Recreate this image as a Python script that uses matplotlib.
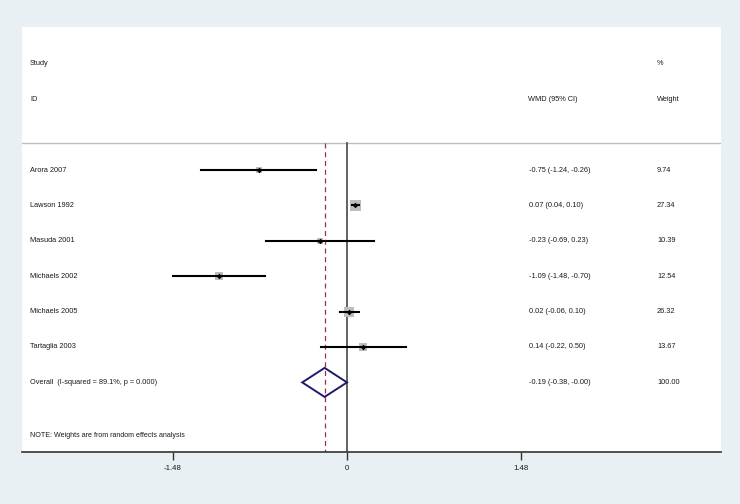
import numpy as np
import matplotlib
matplotlib.use("Agg")
import matplotlib.pyplot as plt
from matplotlib.patches import Polygon

studies = ["Arora 2007", "Lawson 1992", "Masuda 2001", "Michaels 2002",
           "Michaels 2005", "Tartaglia 2003"]
wmd = [-0.75, 0.07, -0.23, -1.09, 0.02, 0.14]
lo = [-1.24, 0.04, -0.69, -1.48, -0.06, -0.22]
hi = [-0.26, 0.10, 0.23, -0.70, 0.10, 0.50]
weights = [9.74, 27.34, 10.39, 12.54, 26.32, 13.67]
overall = (-0.19, -0.38, -0.00)
overall_label = "Overall  (I-squared = 89.1%, p = 0.000)"
tick_vals = [-1.48, 0, 1.48]
tick_labels = ["-1.48", "0", "1.48"]

BG = "#e8f0f3"
fig = plt.figure(figsize=(7.4, 5.04), dpi=100, facecolor=BG)
W, H = 740, 504
left, right, top, bottom = 22, 721, 27, 452
ax = fig.add_axes([left / W, 1 - bottom / H, (right - left) / W, (bottom - top) / H])
ax.set_facecolor("white")

px_per_unit = 117.8
x0 = 347
ax.set_xlim((left - x0) / px_per_unit, (right - x0) / px_per_unit)
row0, step = 170, 35.4
ax.set_ylim((bottom - row0) / step, (top - row0) / step)

font = ["Liberation Sans", "DejaVu Sans"]
narrow = ["Liberation Sans Narrow", "Liberation Sans", "DejaVu Sans"]
fs = 5.3
tc = "#1a1a1a"

def xfrac(px):
    return (px - left) / (right - left)

tr = ax.get_yaxis_transform()

def txt(px, y, s, size=fs, fam=font):
    ax.text(xfrac(px), y, s, transform=tr, fontsize=size, family=fam, va="center", color=tc)

n = len(studies)
ys = np.arange(n)
yo = n

# header
txt(30, -3, "Study")
txt(30, -2, "ID")
txt(528, -2, "WMD (95% CI)")
txt(657, -3, "%")
txt(657, -2, "Weight")
ax.axhline(-0.76, color="#bdbdbd", lw=1.0)

ylow = ax.get_ylim()[0]
ax.plot([0, 0], [-0.76, ylow], color="#555555", lw=1.3, zorder=2)
ax.plot([overall[0]] * 2, [-0.76, ylow], color="#8b3a4a", lw=0.9, ls=(0, (4, 3)), zorder=2)

for i in range(n):
    ax.plot([lo[i], hi[i]], [ys[i], ys[i]], color="black", lw=1.5, zorder=4)
    side = 11 * np.sqrt(weights[i] / 27.34) * 0.72
    ax.scatter([wmd[i]], [ys[i]], marker="s", s=side ** 2, color="#bdbdbd", lw=0, zorder=3)
    ax.scatter([wmd[i]], [ys[i]], marker="D", s=8, color="black", lw=0, zorder=5)
    txt(30, ys[i], studies[i])
    txt(529, ys[i], f"{wmd[i]:.2f} ({lo[i]:.2f}, {hi[i]:.2f})")
    txt(657, ys[i], f"{weights[i]:.2f}")

est, olo, ohi = overall
dh = 14.5 / step
diamond = Polygon([[olo, yo], [est, yo - dh], [ohi, yo], [est, yo + dh]], closed=True,
                  fill=False, edgecolor="#1c1c6b", lw=1.4, zorder=4)
ax.add_patch(diamond)
txt(30, yo, overall_label)
txt(529, yo, "-0.19 (-0.38, -0.00)")
txt(657, yo, "100.00")

txt(30, 7.5, "NOTE: Weights are from random effects analysis", size=5.1, fam=narrow)

for s in ["top", "right", "left"]:
    ax.spines[s].set_visible(False)
ax.spines["bottom"].set_color("#333333")
ax.spines["bottom"].set_linewidth(1.2)
ax.set_yticks([])
ax.set_xticks(tick_vals)
ax.set_xticklabels(tick_labels, fontsize=5.6, family=narrow, color=tc)
ax.tick_params(axis="x", length=6, width=1.0, color="#333333", pad=3)

fig.savefig("out.png", dpi=100, facecolor=BG)
